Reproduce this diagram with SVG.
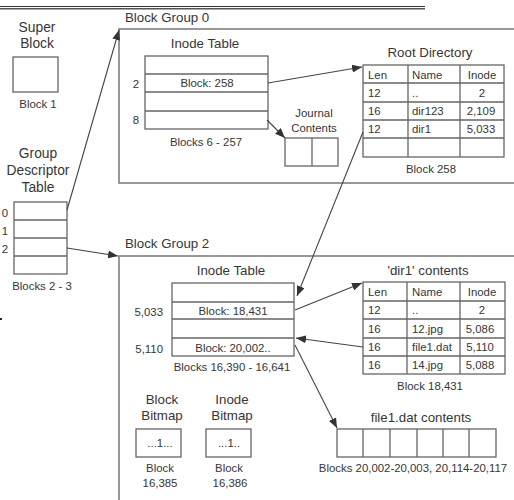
<svg xmlns="http://www.w3.org/2000/svg" width="514" height="500" viewBox="0 0 514 500">
<defs>
<style>
.t{font-family:"Liberation Sans",Arial,sans-serif;fill:#363636}
.h{font-size:13.3px}
.b{font-size:13.8px}
.c{font-size:11.4px}
.m{text-anchor:middle}
.e{text-anchor:end}
.box{fill:#fff;stroke:#666;stroke-width:1.3}
.ln{stroke:#666;stroke-width:1.3;fill:none}
.grp{fill:none;stroke:#777;stroke-width:1.5}
.conn{stroke:#444;stroke-width:1.1;fill:none;marker-end:url(#arr)}
</style>
<marker id="arr" markerWidth="10" markerHeight="8" refX="10" refY="4" orient="auto" markerUnits="userSpaceOnUse">
<path d="M0,0 L10,4 L0,8 z" fill="#333"/>
</marker>
</defs>
<rect width="514" height="500" fill="#fff"/>
<g id="header-rule">
<line x1="0" y1="6.5" x2="425" y2="6.5" stroke="#333" stroke-width="1"/>
<line x1="0" y1="8.8" x2="425" y2="8.8" stroke="#555" stroke-width="1.4"/>
</g>
<rect x="0" y="318" width="2" height="2" fill="#222"/>

<g id="super-block">
<text class="t b m" x="37" y="32">Super</text>
<text class="t b m" x="37" y="48">Block</text>
<rect class="box" x="13" y="57" width="45" height="35"/>
<text class="t c m" x="38" y="108">Block 1</text>
</g>

<g id="group-descriptor-table">
<text class="t b m" x="38" y="158">Group</text>
<text class="t b m" x="38" y="175">Descriptor</text>
<text class="t b m" x="38" y="192">Table</text>
<rect class="box" x="14" y="202" width="53" height="72"/>
<path class="ln" d="M14,220H67M14,238H67M14,256H67"/>
<text class="t c m" x="5" y="217">0</text>
<text class="t c m" x="5" y="235">1</text>
<text class="t c m" x="5" y="253">2</text>
<text class="t c m" x="42" y="290">Blocks 2 - 3</text>
</g>

<g id="block-group-0">
<text class="t h" x="125" y="22">Block Group 0</text>
<rect class="grp" x="119" y="29" width="420" height="154"/>
</g>

<g id="inode-table-0">
<text class="t h m" x="205" y="48">Inode Table</text>
<rect class="box" x="145" y="56" width="123" height="73"/>
<path class="ln" d="M145,74H268M145,92H268M145,111H268"/>
<text class="t c m" x="136" y="88">2</text>
<text class="t c m" x="136" y="124">8</text>
<text class="t c m" x="207" y="87">Block: 258</text>
<text class="t c m" x="206" y="146">Blocks 6 - 257</text>
</g>

<g id="root-directory">
<text class="t h m" x="430" y="57">Root Directory</text>
<rect class="box" x="363" y="65" width="141" height="92"/>
<path class="ln" d="M408,65V157M460,65V157M363,83H504M363,102H504M363,120H504M363,138H504"/>
<text class="t c" x="368" y="79">Len</text>
<text class="t c" x="412" y="79">Name</text>
<text class="t c m" x="482" y="79">Inode</text>
<text class="t c" x="368" y="97">12</text>
<text class="t c" x="412" y="97">..</text>
<text class="t c m" x="482" y="97">2</text>
<text class="t c" x="368" y="115">16</text>
<text class="t c" x="412" y="115">dir123</text>
<text class="t c m" x="481" y="115">2,109</text>
<text class="t c" x="368" y="133">12</text>
<text class="t c" x="412" y="133">dir1</text>
<text class="t c m" x="481" y="133">5,033</text>
<text class="t c m" x="431" y="173">Block 258</text>
</g>

<g id="journal">
<text class="t c m" x="314" y="117">Journal</text>
<text class="t c m" x="314" y="132">Contents</text>
<rect class="box" x="285" y="138" width="53" height="28"/>
<path class="ln" d="M312,138V166"/>
</g>

<g id="block-group-2">
<text class="t h" x="125" y="248">Block Group 2</text>
<rect class="grp" x="119" y="256" width="420" height="260"/>
</g>

<g id="inode-table-2">
<text class="t h m" x="231" y="275">Inode Table</text>
<rect class="box" x="172" y="283" width="122" height="73"/>
<path class="ln" d="M172,302H294M172,319H294M172,338H294"/>
<text class="t c e" x="163" y="316">5,033</text>
<text class="t c e" x="163" y="353">5,110</text>
<text class="t c m" x="233" y="315">Block: 18,431</text>
<text class="t c m" x="233" y="352">Block: 20,002..</text>
<text class="t c m" x="232" y="371">Blocks 16,390 - 16,641</text>
</g>

<g id="dir1-contents">
<text class="t h m" x="428" y="275">'dir1' contents</text>
<rect class="box" x="363" y="282" width="142" height="92"/>
<path class="ln" d="M407,282V374M460,282V374M363,301H505M363,319H505M363,338H505M363,356H505"/>
<text class="t c" x="368" y="296">Len</text>
<text class="t c" x="412" y="296">Name</text>
<text class="t c m" x="482" y="296">Inode</text>
<text class="t c" x="368" y="314">12</text>
<text class="t c" x="412" y="314">..</text>
<text class="t c m" x="482" y="314">2</text>
<text class="t c" x="368" y="333">16</text>
<text class="t c" x="412" y="333">12.jpg</text>
<text class="t c m" x="480" y="333">5,086</text>
<text class="t c" x="368" y="351">16</text>
<text class="t c" x="412" y="351">file1.dat</text>
<text class="t c m" x="480" y="351">5,110</text>
<text class="t c" x="368" y="369">16</text>
<text class="t c" x="412" y="369">14.jpg</text>
<text class="t c m" x="480" y="369">5,088</text>
<text class="t c m" x="430" y="390">Block 18,431</text>
</g>

<g id="file1-contents">
<text class="t h m" x="421" y="422">file1.dat contents</text>
<rect class="box" x="337" y="429" width="159" height="28"/>
<path class="ln" d="M363,429V457M390,429V457M417,429V457M443,429V457M469,429V457"/>
<text class="t c m" x="413" y="472">Blocks 20,002-20,003, 20,114-20,117</text>
</g>

<g id="block-bitmap">
<text class="t h m" x="162" y="404">Block</text>
<text class="t h m" x="162" y="420">Bitmap</text>
<rect class="box" x="136" y="429" width="45" height="28"/>
<text class="t c m" x="160" y="447">...1...</text>
<text class="t c m" x="160" y="472">Block</text>
<text class="t c m" x="160" y="487">16,385</text>
</g>

<g id="inode-bitmap">
<text class="t h m" x="232" y="404">Inode</text>
<text class="t h m" x="232" y="420">Bitmap</text>
<rect class="box" x="206" y="429" width="45" height="28"/>
<text class="t c m" x="229" y="447">...1..</text>
<text class="t c m" x="229" y="472">Block</text>
<text class="t c m" x="230" y="487">16,386</text>
</g>

<g id="connectors">
<line class="conn" x1="67" y1="210" x2="119" y2="30"/>
<line class="conn" x1="67" y1="248" x2="118" y2="256"/>
<line class="conn" x1="268" y1="83" x2="362" y2="67"/>
<line class="conn" x1="267" y1="120" x2="285" y2="138"/>
<line class="conn" x1="363" y1="132" x2="297" y2="296"/>
<line class="conn" x1="295" y1="310" x2="362" y2="283"/>
<line class="conn" x1="363" y1="347" x2="296" y2="338"/>
<line class="conn" x1="295" y1="345" x2="337" y2="428"/>
</g>
</svg>
